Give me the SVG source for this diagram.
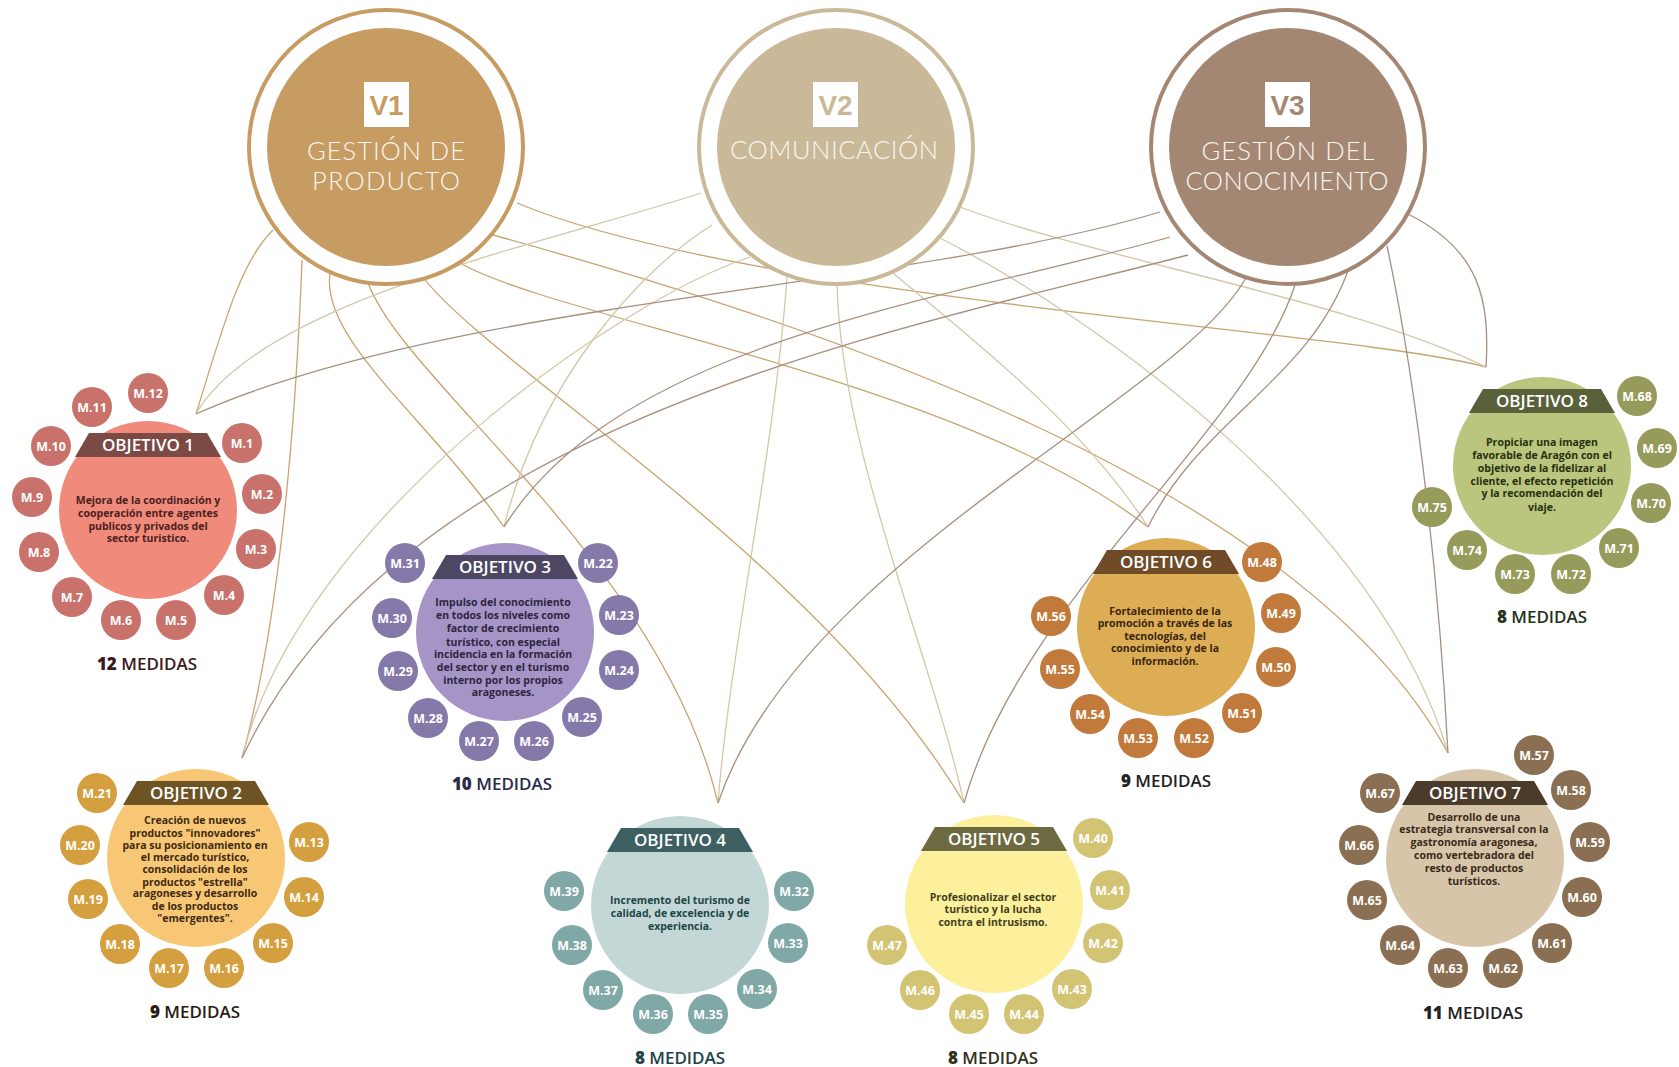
<svg xmlns="http://www.w3.org/2000/svg" width="1679" height="1067" viewBox="0 0 1679 1067">
<style>
.bg{fill:#fff}
.conn path{fill:none;stroke-width:1.3}
.c1{stroke:#C9A36E}
.c2{stroke:#D4C6A8}
.c3{stroke:#A88F7D}
.ring{fill:#fff;stroke-width:4}
.vsq{fill:#fff}
.vn{font-family:"Liberation Sans",Arial,sans-serif;font-weight:700;font-size:28px;text-anchor:middle}
.vt{font-family:Lato,"Open Sans",sans-serif;font-weight:300;font-size:25.5px;fill:#FBF6EE;text-anchor:middle}
.bub text{font-family:"Open Sans",Roboto,sans-serif;font-weight:700;font-size:12.5px;fill:#fff;text-anchor:middle}
.ot{font-family:"Open Sans",Roboto,sans-serif;font-weight:600;font-size:17px;fill:#fff;text-anchor:middle}
.d{font-family:"Open Sans",Roboto,sans-serif;font-weight:700;font-size:10.5px;text-anchor:middle}
.md{font-family:"Open Sans",Roboto,sans-serif;font-weight:600;font-size:17px;text-anchor:middle}
.md tspan.n{font-weight:800}
.o1 .main{fill:#F08B7C}.o1 .bub circle{fill:#C9716B}.o1 .band{fill:#7B4A45}.o1 .d{fill:#4B1E1E}.o1 .md{fill:#3B1A1A}
.o2 .main{fill:#F8C776}.o2 .bub circle{fill:#D49F3E}.o2 .band{fill:#6E5324}.o2 .d{fill:#3D2A12}.o2 .md{fill:#2B1B10}
.o3 .main{fill:#A594C6}.o3 .bub circle{fill:#8579AA}.o3 .band{fill:#4E4763}.o3 .d{fill:#2D2540}.o3 .md{fill:#2B2A4A}
.o4 .main{fill:#C3D7D6}.o4 .bub circle{fill:#7FA8A7}.o4 .band{fill:#3E6062}.o4 .d{fill:#1E4547}.o4 .md{fill:#1D4346}
.o5 .main{fill:#FDF09C}.o5 .bub circle{fill:#D3C474}.o5 .band{fill:#6D6A42}.o5 .d{fill:#423E1C}.o5 .md{fill:#33301A}
.o6 .main{fill:#DDAD56}.o6 .bub circle{fill:#C17A3C}.o6 .band{fill:#6F4B27}.o6 .d{fill:#3A2512}.o6 .md{fill:#222}
.o7 .main{fill:#D7C5A9}.o7 .bub circle{fill:#8A6F52}.o7 .band{fill:#4B3B2B}.o7 .d{fill:#3A2A1A}.o7 .md{fill:#222}
.o8 .main{fill:#BAC57D}.o8 .bub circle{fill:#969B5B}.o8 .band{fill:#59613A}.o8 .d{fill:#263010}.o8 .md{fill:#24331A}
</style>
<rect class="bg" x="0" y="0" width="1679" height="1067"/>

<g id="connectors" class="conn">
  <!-- V1 -->
  <path class="c1" d="M273,230 C240,262 222,330 196,414"/>
  <path class="c1" d="M302,260 C296,420 280,620 242,758"/>
  <path class="c1" d="M330,273 C320,340 430,420 504,527"/>
  <path class="c1" d="M367,280 C400,380 660,560 718,803"/>
  <path class="c1" d="M420,273 C480,360 820,560 964,803"/>
  <path class="c1" d="M460,263 C560,320 960,380 1148,527"/>
  <path class="c1" d="M493,235 C800,320 1300,480 1448,753"/>
  <path class="c1" d="M517,203 C750,300 1350,330 1486,367"/>
  <!-- V2 -->
  <path class="c2" d="M701,193 C560,240 260,300 196,414"/>
  <path class="c2" d="M712,225 C640,270 540,380 504,527"/>
  <path class="c2" d="M750,257 C620,300 300,520 242,758"/>
  <path class="c2" d="M787,277 C775,450 730,650 718,803"/>
  <path class="c2" d="M837,282 C840,450 930,650 964,803"/>
  <path class="c2" d="M893,273 C960,330 1080,420 1148,527"/>
  <path class="c2" d="M940,238 C1100,320 1380,520 1448,753"/>
  <path class="c2" d="M960,207 C1100,260 1350,300 1486,367"/>
  <!-- V3 -->
  <path class="c3" d="M1160,212 C900,290 450,300 196,414"/>
  <path class="c3" d="M1170,237 C950,300 620,340 504,527"/>
  <path class="c3" d="M1188,255 C900,330 400,420 242,758"/>
  <path class="c3" d="M1247,276 C1180,400 800,560 718,803"/>
  <path class="c3" d="M1296,282 C1250,430 1020,600 964,803"/>
  <path class="c3" d="M1349,268 C1310,380 1200,420 1148,527"/>
  <path class="c3" d="M1387,246 C1420,400 1440,600 1448,753"/>
  <path class="c3" d="M1408,214 C1480,250 1490,300 1486,367"/>
</g>

<g id="v1">
  <circle class="ring" cx="386" cy="147" r="137" stroke="#C69C62"/>
  <circle cx="386" cy="147" r="119" fill="#C69C62"/>
  <rect class="vsq" x="364" y="82" width="45" height="45"/>
  <text class="vn" x="386.5" y="115" fill="#C69C62">V1</text>
  <text class="vt" x="386" y="160" textLength="158" lengthAdjust="spacing">GESTIÓN DE</text>
  <text class="vt" x="386" y="190" textLength="148" lengthAdjust="spacing">PRODUCTO</text>
</g>
<g id="v2">
  <circle class="ring" cx="836" cy="147" r="137" stroke="#C9B999"/>
  <circle cx="836" cy="147" r="119" fill="#C9B999"/>
  <rect class="vsq" x="813" y="82" width="45" height="45"/>
  <text class="vn" x="835.5" y="115" fill="#C9B999">V2</text>
  <text class="vt" x="834" y="159" textLength="208" lengthAdjust="spacing">COMUNICACIÓN</text>
</g>
<g id="v3">
  <circle class="ring" cx="1288" cy="147" r="137" stroke="#A38773"/>
  <circle cx="1288" cy="147" r="119" fill="#A38773"/>
  <rect class="vsq" x="1265" y="82" width="45" height="45"/>
  <text class="vn" x="1287.5" y="115" fill="#A38773">V3</text>
  <text class="vt" x="1288" y="160" textLength="173" lengthAdjust="spacing">GESTIÓN DEL</text>
  <text class="vt" x="1287" y="190" textLength="203" lengthAdjust="spacing">CONOCIMIENTO</text>
</g>

<g id="objetivo1" class="o1">
  <circle class="main" cx="148" cy="510" r="89"/>
  <polygon class="band" points="89,433 207,433 221,457 75,457"/>
  <text class="ot" x="148" y="451">OBJETIVO 1</text>
  <text class="d" x="148" y="504">Mejora de la coordinación y</text>
  <text class="d" x="148" y="517">cooperación entre agentes</text>
  <text class="d" x="148" y="530">publicos y privados del</text>
  <text class="d" x="148" y="542">sector turistico.</text>
  <g class="bub">
    <circle cx="242" cy="443" r="20"/><text x="242" y="448">M.1</text>
    <circle cx="262" cy="494" r="20"/><text x="262" y="499">M.2</text>
    <circle cx="256" cy="549" r="20"/><text x="256" y="554">M.3</text>
    <circle cx="224" cy="595" r="20"/><text x="224" y="600">M.4</text>
    <circle cx="176" cy="620" r="20"/><text x="176" y="625">M.5</text>
    <circle cx="121" cy="620" r="20"/><text x="121" y="625">M.6</text>
    <circle cx="72" cy="597" r="20"/><text x="72" y="602">M.7</text>
    <circle cx="39" cy="552" r="20"/><text x="39" y="557">M.8</text>
    <circle cx="32" cy="497" r="20"/><text x="32" y="502">M.9</text>
    <circle cx="51" cy="446" r="20"/><text x="51" y="451">M.10</text>
    <circle cx="92" cy="407" r="20"/><text x="92" y="412">M.11</text>
    <circle cx="148" cy="393" r="20"/><text x="148" y="398">M.12</text>
  </g>
  <text class="md" x="147" y="670"><tspan class="n">12</tspan> MEDIDAS</text>
</g>

<g id="objetivo2" class="o2">
  <circle class="main" cx="196" cy="858" r="89"/>
  <polygon class="band" points="137,781 255,781 269,805 123,805"/>
  <text class="ot" x="196" y="799">OBJETIVO 2</text>
  <text class="d" x="195" y="824">Creación de nuevos</text>
  <text class="d" x="195" y="837">productos "innovadores"</text>
  <text class="d" x="195" y="849">para su posicionamiento en</text>
  <text class="d" x="195" y="861">el mercado turístico,</text>
  <text class="d" x="195" y="873">consolidación de los</text>
  <text class="d" x="195" y="886">productos "estrella"</text>
  <text class="d" x="195" y="897">aragoneses y desarrollo</text>
  <text class="d" x="195" y="910">de los productos</text>
  <text class="d" x="195" y="922">"emergentes".</text>
  <g class="bub">
    <circle cx="309" cy="842" r="20"/><text x="309" y="847">M.13</text>
    <circle cx="304" cy="897" r="20"/><text x="304" y="902">M.14</text>
    <circle cx="273" cy="943" r="20"/><text x="273" y="948">M.15</text>
    <circle cx="224" cy="968" r="20"/><text x="224" y="973">M.16</text>
    <circle cx="169" cy="968" r="20"/><text x="169" y="973">M.17</text>
    <circle cx="120" cy="944" r="20"/><text x="120" y="949">M.18</text>
    <circle cx="88" cy="899" r="20"/><text x="88" y="904">M.19</text>
    <circle cx="80" cy="845" r="20"/><text x="80" y="850">M.20</text>
    <circle cx="97" cy="793" r="20"/><text x="97" y="798">M.21</text>
  </g>
  <text class="md" x="195" y="1018"><tspan class="n">9</tspan> MEDIDAS</text>
</g>

<g id="objetivo3" class="o3">
  <circle class="main" cx="505" cy="632" r="89"/>
  <polygon class="band" points="446,555 564,555 578,579 432,579"/>
  <text class="ot" x="505" y="573">OBJETIVO 3</text>
  <text class="d" x="503" y="606">Impulso del conocimiento</text>
  <text class="d" x="503" y="619">en todos los niveles como</text>
  <text class="d" x="503" y="632">factor de crecimiento</text>
  <text class="d" x="503" y="646">turístico, con especial</text>
  <text class="d" x="503" y="658">incidencia en la formación</text>
  <text class="d" x="503" y="671">del sector y en el turismo</text>
  <text class="d" x="503" y="684">interno por los propios</text>
  <text class="d" x="503" y="696">aragoneses.</text>
  <g class="bub">
    <circle cx="598" cy="563" r="20"/><text x="598" y="568">M.22</text>
    <circle cx="619" cy="615" r="20"/><text x="619" y="620">M.23</text>
    <circle cx="619" cy="670" r="20"/><text x="619" y="675">M.24</text>
    <circle cx="582" cy="717" r="20"/><text x="582" y="722">M.25</text>
    <circle cx="534" cy="741" r="20"/><text x="534" y="746">M.26</text>
    <circle cx="479" cy="741" r="20"/><text x="479" y="746">M.27</text>
    <circle cx="428" cy="718" r="20"/><text x="428" y="723">M.28</text>
    <circle cx="398" cy="671" r="20"/><text x="398" y="676">M.29</text>
    <circle cx="392" cy="618" r="20"/><text x="392" y="623">M.30</text>
    <circle cx="405" cy="563" r="20"/><text x="405" y="568">M.31</text>
  </g>
  <text class="md" x="502" y="790"><tspan class="n">10</tspan> MEDIDAS</text>
</g>

<g id="objetivo4" class="o4">
  <circle class="main" cx="680" cy="905" r="89"/>
  <polygon class="band" points="621,828 739,828 753,852 607,852"/>
  <text class="ot" x="680" y="846">OBJETIVO 4</text>
  <text class="d" x="680" y="904">Incremento del turismo de</text>
  <text class="d" x="680" y="917">calidad, de excelencia y de</text>
  <text class="d" x="680" y="930">experiencia.</text>
  <g class="bub">
    <circle cx="794" cy="891" r="20"/><text x="794" y="896">M.32</text>
    <circle cx="788" cy="943" r="20"/><text x="788" y="948">M.33</text>
    <circle cx="757" cy="989" r="20"/><text x="757" y="994">M.34</text>
    <circle cx="708" cy="1014" r="20"/><text x="708" y="1019">M.35</text>
    <circle cx="653" cy="1014" r="20"/><text x="653" y="1019">M.36</text>
    <circle cx="603" cy="990" r="20"/><text x="603" y="995">M.37</text>
    <circle cx="572" cy="945" r="20"/><text x="572" y="950">M.38</text>
    <circle cx="564" cy="891" r="20"/><text x="564" y="896">M.39</text>
  </g>
  <text class="md" x="680" y="1064"><tspan class="n">8</tspan> MEDIDAS</text>
</g>

<g id="objetivo5" class="o5">
  <circle class="main" cx="994" cy="904" r="89"/>
  <polygon class="band" points="935,827 1053,827 1067,851 921,851"/>
  <text class="ot" x="994" y="845">OBJETIVO 5</text>
  <text class="d" x="993" y="901">Profesionalizar el sector</text>
  <text class="d" x="993" y="913">turístico y la lucha</text>
  <text class="d" x="993" y="926">contra el intrusismo.</text>
  <g class="bub">
    <circle cx="1093" cy="838" r="20"/><text x="1093" y="843">M.40</text>
    <circle cx="1110" cy="890" r="20"/><text x="1110" y="895">M.41</text>
    <circle cx="1103" cy="943" r="20"/><text x="1103" y="948">M.42</text>
    <circle cx="1072" cy="989" r="20"/><text x="1072" y="994">M.43</text>
    <circle cx="1024" cy="1014" r="20"/><text x="1024" y="1019">M.44</text>
    <circle cx="969" cy="1014" r="20"/><text x="969" y="1019">M.45</text>
    <circle cx="920" cy="990" r="20"/><text x="920" y="995">M.46</text>
    <circle cx="887" cy="945" r="20"/><text x="887" y="950">M.47</text>
  </g>
  <text class="md" x="993" y="1064"><tspan class="n">8</tspan> MEDIDAS</text>
</g>

<g id="objetivo6" class="o6">
  <circle class="main" cx="1166" cy="627" r="89"/>
  <polygon class="band" points="1107,550 1225,550 1239,574 1093,574"/>
  <text class="ot" x="1166" y="568">OBJETIVO 6</text>
  <text class="d" x="1165" y="615">Fortalecimiento de la</text>
  <text class="d" x="1165" y="627">promoción a través de las</text>
  <text class="d" x="1165" y="640">tecnologías, del</text>
  <text class="d" x="1165" y="652">conocimiento y de la</text>
  <text class="d" x="1165" y="665">información.</text>
  <g class="bub">
    <circle cx="1262" cy="562" r="20"/><text x="1262" y="567">M.48</text>
    <circle cx="1281" cy="613" r="20"/><text x="1281" y="618">M.49</text>
    <circle cx="1276" cy="667" r="20"/><text x="1276" y="672">M.50</text>
    <circle cx="1242" cy="713" r="20"/><text x="1242" y="718">M.51</text>
    <circle cx="1194" cy="738" r="20"/><text x="1194" y="743">M.52</text>
    <circle cx="1138" cy="738" r="20"/><text x="1138" y="743">M.53</text>
    <circle cx="1090" cy="714" r="20"/><text x="1090" y="719">M.54</text>
    <circle cx="1060" cy="669" r="20"/><text x="1060" y="674">M.55</text>
    <circle cx="1051" cy="616" r="20"/><text x="1051" y="621">M.56</text>
  </g>
  <text class="md" x="1166" y="787"><tspan class="n">9</tspan> MEDIDAS</text>
</g>

<g id="objetivo7" class="o7">
  <circle class="main" cx="1475" cy="858" r="89"/>
  <polygon class="band" points="1416,781 1534,781 1548,805 1402,805"/>
  <text class="ot" x="1475" y="799">OBJETIVO 7</text>
  <text class="d" x="1474" y="821">Desarrollo de una</text>
  <text class="d" x="1474" y="833">estrategia transversal con la</text>
  <text class="d" x="1474" y="846">gastronomía aragonesa,</text>
  <text class="d" x="1474" y="859">como vertebradora del</text>
  <text class="d" x="1474" y="872">resto de productos</text>
  <text class="d" x="1474" y="885">turísticos.</text>
  <g class="bub">
    <circle cx="1534" cy="755" r="20"/><text x="1534" y="760">M.57</text>
    <circle cx="1571" cy="790" r="20"/><text x="1571" y="795">M.58</text>
    <circle cx="1590" cy="842" r="20"/><text x="1590" y="847">M.59</text>
    <circle cx="1582" cy="897" r="20"/><text x="1582" y="902">M.60</text>
    <circle cx="1552" cy="943" r="20"/><text x="1552" y="948">M.61</text>
    <circle cx="1503" cy="968" r="20"/><text x="1503" y="973">M.62</text>
    <circle cx="1448" cy="968" r="20"/><text x="1448" y="973">M.63</text>
    <circle cx="1400" cy="945" r="20"/><text x="1400" y="950">M.64</text>
    <circle cx="1367" cy="900" r="20"/><text x="1367" y="905">M.65</text>
    <circle cx="1359" cy="845" r="20"/><text x="1359" y="850">M.66</text>
    <circle cx="1380" cy="793" r="20"/><text x="1380" y="798">M.67</text>
  </g>
  <text class="md" x="1473" y="1019"><tspan class="n">11</tspan> MEDIDAS</text>
</g>

<g id="objetivo8" class="o8">
  <circle class="main" cx="1542" cy="466" r="89"/>
  <polygon class="band" points="1483,389 1601,389 1615,413 1469,413"/>
  <text class="ot" x="1542" y="407">OBJETIVO 8</text>
  <text class="d" x="1542" y="446">Propiciar una imagen</text>
  <text class="d" x="1542" y="459">favorable de Aragón con el</text>
  <text class="d" x="1542" y="472">objetivo de la fidelizar al</text>
  <text class="d" x="1542" y="485">cliente, el efecto repetición</text>
  <text class="d" x="1542" y="497">y la recomendación del</text>
  <text class="d" x="1542" y="511">viaje.</text>
  <g class="bub">
    <circle cx="1637" cy="396" r="20"/><text x="1637" y="401">M.68</text>
    <circle cx="1657" cy="448" r="20"/><text x="1657" y="453">M.69</text>
    <circle cx="1651" cy="503" r="20"/><text x="1651" y="508">M.70</text>
    <circle cx="1619" cy="548" r="20"/><text x="1619" y="553">M.71</text>
    <circle cx="1571" cy="574" r="20"/><text x="1571" y="579">M.72</text>
    <circle cx="1515" cy="574" r="20"/><text x="1515" y="579">M.73</text>
    <circle cx="1467" cy="550" r="20"/><text x="1467" y="555">M.74</text>
    <circle cx="1432" cy="507" r="20"/><text x="1432" y="512">M.75</text>
  </g>
  <text class="md" x="1542" y="623"><tspan class="n">8</tspan> MEDIDAS</text>
</g>
</svg>
